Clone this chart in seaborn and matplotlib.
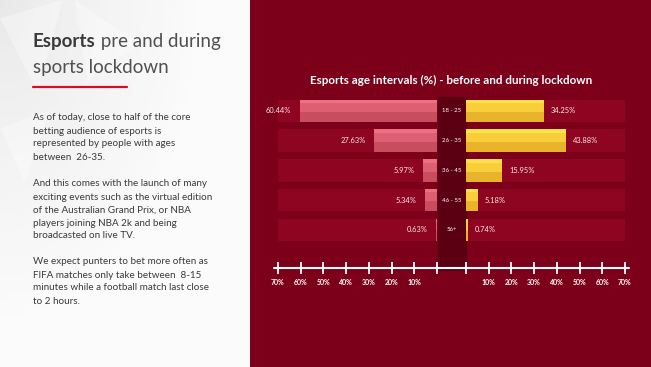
import numpy as np
import pandas as pd
import matplotlib
matplotlib.use('Agg')
import matplotlib.pyplot as plt
import seaborn as sns
from matplotlib.patches import Rectangle, Polygon
from matplotlib.lines import Line2D
from matplotlib.transforms import blended_transform_factory

# data
age_groups = ['18 - 25', '26 - 35', '36 - 45', '46 - 55', '56+']
before = [60.44, 27.63, 5.97, 5.34, 0.63]
during = [34.25, 43.88, 15.95, 5.18, 0.74]
scale_max = 70
left_ticks = [70, 60, 50, 40, 30, 20, 10, 0]
right_ticks = [0, 10, 20, 30, 40, 50, 60, 70]

chart_title = 'Esports age intervals (%) - before and during lockdown'
para1 = ['As of today, close to half of the core',
         'betting audience of esports is',
         'represented by people with ages',
         'between  26-35.']
para2 = ['And this comes with the launch of many',
         'exciting events such as the virtual edition',
         'of the Australian Grand Prix, or NBA',
         'players joining NBA 2k and being',
         'broadcasted on live TV.']
para3 = ['We expect punters to bet more often as',
         'FIFA matches only take between  8-15',
         'minutes while a football match last close',
         'to 2 hours.']

# colours
BG = '#7c0019'
TRACK = '#8d0521'
CENTER = '#5b0013'
PINK = '#c84d5f'
PINK_MID = '#de5f72'
PINK_LIGHT = '#ec7082'
YELLOW = '#e9b32c'
YELLOW_MID = '#f8cf3a'
YELLOW_LIGHT = '#fee24b'
GREY_TEXT = '#3a3a3a'

W, H = 651, 367


def fx(x):
    return x / W


def fy(y):
    return 1 - y / H


sns.set_theme(style='white')
plt.rcParams['font.family'] = ['Lato', 'DejaVu Sans']

fig = plt.figure(figsize=(W / 100, H / 100), dpi=100)
fig.patch.set_facecolor(BG)

# left light panel with a soft grey corner
ax_bg = fig.add_axes([0, 0, fx(250), 1], zorder=-5)
gx, gy = np.meshgrid(np.linspace(0, 1, 60), np.linspace(0, 1, 90))
shade = np.clip(np.hypot(gx * 1.2, gy * 1.1), 0, 1)
ax_bg.imshow(shade, cmap='Greys_r', vmin=-6, vmax=1.2, aspect='auto',
             extent=(0, 1, 1, 0))
for pts in [[(0.0, 0.05), (0.25, 0.0), (0.15, 0.25)],
            [(0.3, 0.0), (0.55, 0.12), (0.35, 0.22)],
            [(0.0, 0.35), (0.2, 0.3), (0.1, 0.5)]]:
    ax_bg.add_patch(Polygon(pts, closed=True, color='white', alpha=0.35, lw=0))
ax_bg.set_xlim(0, 1)
ax_bg.set_ylim(1, 0)
ax_bg.axis('off')

# dark centre column
fig.add_artist(Rectangle((fx(438), fy(270)), fx(466) - fx(438), fy(97) - fy(270),
                         transform=fig.transFigure, color=CENTER, zorder=-1))

df = pd.DataFrame({'age': age_groups, 'before': before, 'during': during,
                   'track': [scale_max] * len(age_groups)})
pos = np.arange(len(age_groups))

ax_l = fig.add_axes([fx(278), fy(268), fx(437) - fx(278), fy(97) - fy(268)])
ax_r = fig.add_axes([fx(466), fy(268), fx(625) - fx(466), fy(97) - fy(268)])

for ax, col, base, mid_c, light, ticks in [
        (ax_l, 'before', PINK, PINK_MID, PINK_LIGHT, left_ticks),
        (ax_r, 'during', YELLOW, YELLOW_MID, YELLOW_LIGHT, right_ticks)]:
    ax.set_facecolor('none')
    sns.barplot(data=df, y='age', x='track', color=TRACK, width=0.76,
                saturation=1, linewidth=0, ax=ax)
    sns.barplot(data=df, y='age', x=col, color=base, width=0.76, saturation=1,
                linewidth=0, ax=ax)
    # bevel look: lighter upper band and bright top strip
    ax.barh(pos - 0.17, df[col], height=0.42, color=mid_c, lw=0)
    ax.barh(pos - 0.32, df[col], height=0.12, color=light, lw=0)
    ax.set_ylim(5.28, -0.47)
    ax.set_xticks(ticks)
    ax.set_xticklabels([f'{t}%' if t else '' for t in ticks])
    ax.set_yticks([])
    ax.set_xlabel('')
    ax.set_ylabel('')
    ax.tick_params(axis='x', bottom=True, colors='white', direction='inout',
                   length=8, width=1.3, labelsize=5, pad=4)
    for lab in ax.get_xticklabels():
        lab.set_fontweight('bold')
    sns.despine(ax=ax, left=True, bottom=True)

ax_l.set_xlim(scale_max, 0)
ax_r.set_xlim(0, scale_max)

for i, v in enumerate(before):
    ax_l.annotate(f'{v:.2f}%', xy=(v, i), xytext=(-6, 0), textcoords='offset points',
                  ha='right', va='center', color='#f6e6e8', fontsize=5.4)
for i, v in enumerate(during):
    ax_r.annotate(f'{v:.2f}%', xy=(v, i), xytext=(5, 0), textcoords='offset points',
                  ha='left', va='center', color='#f6e6e8', fontsize=5.4)

mid = blended_transform_factory(fig.transFigure, ax_l.transData)
for i, lab in enumerate(age_groups):
    ax_l.text(fx(451.5), i, lab, transform=mid, ha='center', va='center',
              color='white', fontsize=4.3, clip_on=False)

# axis line across both halves
fig.add_artist(Line2D([fx(274), fx(629)], [fy(268)] * 2, transform=fig.transFigure,
                      color='white', lw=1.5))

fig.text(fx(451), fy(80), chart_title, ha='center', va='center', color='white',
         fontsize=8.4, fontweight='bold')

# left panel text
t1 = fig.text(fx(33), fy(47), 'Esports', ha='left', va='baseline',
              color=GREY_TEXT, fontsize=13.5, fontweight='bold')
fig.add_artist(plt.Annotation(' pre and during', xy=(1, 0), xycoords=t1,
                              va='bottom', ha='left', color='#505050',
                              fontsize=13.5, fontweight='normal'))
fig.text(fx(33), fy(73), 'sports lockdown', ha='left', va='baseline',
         color='#505050', fontsize=13.5, fontweight='normal')
fig.add_artist(Line2D([fx(33), fx(127)], [fy(87)] * 2, transform=fig.transFigure,
                      color='#d0102a', lw=1.6))

for start, lines in [(118, para1), (184, para2), (262, para3)]:
    for k, line in enumerate(lines):
        fig.text(fx(33), fy(start + 13 * k), line, ha='left', va='center',
                 color=GREY_TEXT, fontsize=7.1)

fig.savefig('out.png', dpi=100, facecolor=fig.get_facecolor())
